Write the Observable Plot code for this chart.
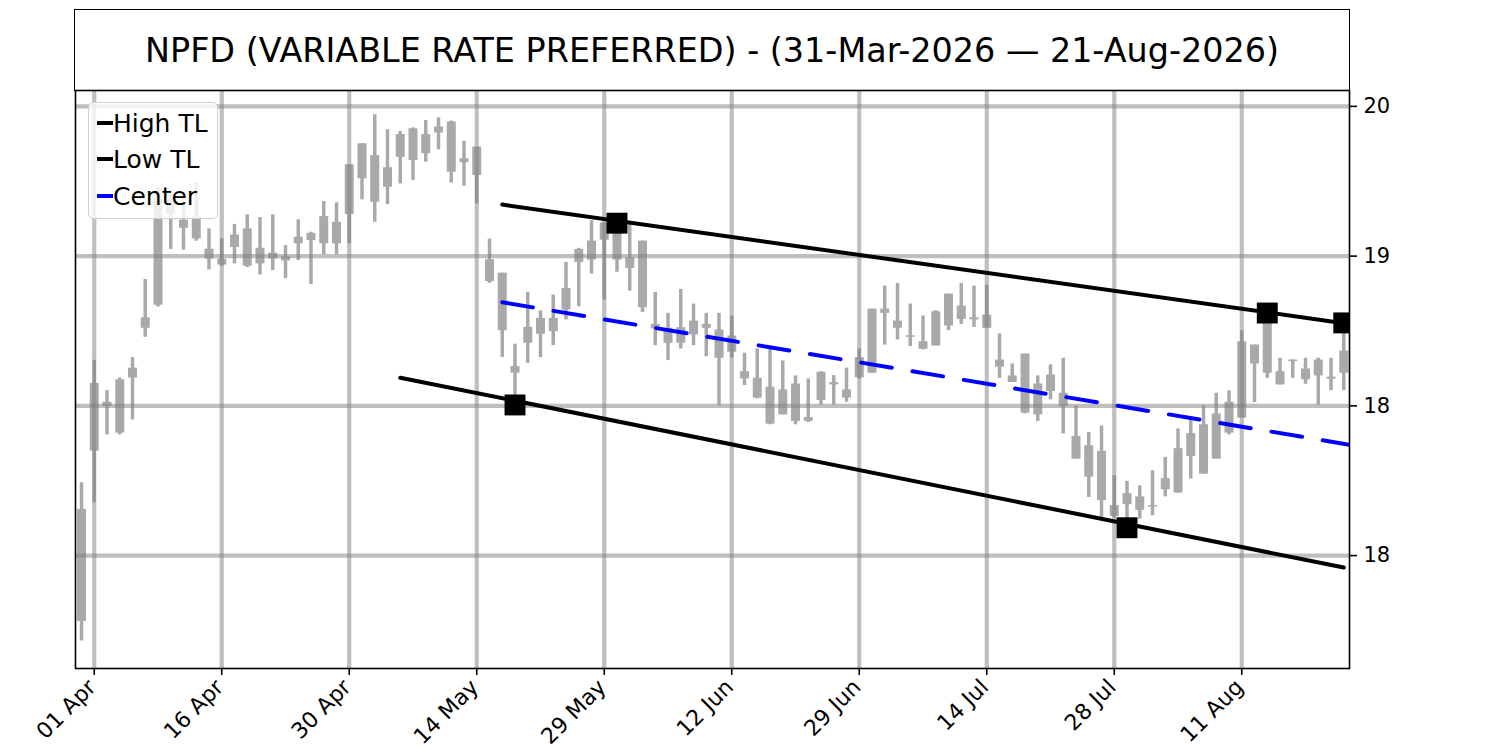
<!DOCTYPE html>
<html>
<head>
<meta charset="utf-8">
<script src="https://cdn.jsdelivr.net/npm/d3@7"></script>
<script src="https://cdn.jsdelivr.net/npm/@observablehq/plot@0.6"></script>
<style>
  body { margin: 0; background: #fff; font-family: "DejaVu Sans", sans-serif; }
  #wrap { position: relative; width: 1500px; height: 750px; overflow: hidden; }
  #title { position: absolute; left: 74px; top: 9px; width: 1276px; height: 82px; box-sizing: border-box;
           border: 1.6px solid #000; display: flex; align-items: center; justify-content: center;
           font-size: 33.4px; color: #000; }
  #chart { position: absolute; left: 0; top: 89px; }
  #legend { position: absolute; left: 88px; top: 102px; width: 130px; height: 117px; box-sizing: border-box;
            border: 1.3px solid #d0d0d0; border-radius: 5px; background: rgba(255,255,255,0.8); }
  .row { position: absolute; left: 0; height: 30px; display: flex; align-items: center; font-size: 25px; color: #000; }
  .sw { width: 16px; height: 0; border-top: 4px solid #000; margin-left: 8px; margin-right: 0px; }
</style>
</head>
<body>
<div id="wrap">
  <div id="title"></div>
  <div id="chart"></div>
  <div id="legend"></div>
</div>
<script>
const titleText = "NPFD (VARIABLE RATE PREFERRED) - (31-Mar-2026 \u2014 21-Aug-2026)";

// trading-day index 0..99 (31-Mar-2026 .. 21-Aug-2026)
const highs = [18.243,18.652,18.551,18.593,18.661,18.922,19.23,19.22,19.18,19.243,
  19.091,19.058,19.106,19.138,19.129,19.138,19.035,19.121,19.08,19.182,
  19.178,19.305,19.375,19.472,19.422,19.416,19.428,19.453,19.462,19.451,
  19.383,19.364,19.057,18.943,18.706,18.879,18.817,18.87,18.979,19.026,
  19.118,19.111,19.11,19.106,19.05,18.879,18.809,18.889,18.84,18.809,
  18.809,18.8,18.676,18.69,18.69,18.65,18.6,18.59,18.614,18.601,
  18.626,18.69,18.823,18.9,18.909,18.84,18.8,18.818,18.873,18.909,
  18.9,18.903,18.74,18.64,18.673,18.6,18.637,18.659,18.5,18.411,
  18.433,18.267,18.248,18.233,18.283,18.328,18.423,18.453,18.5,18.542,
  18.55,18.751,18.703,18.81,18.659,18.653,18.659,18.659,18.659,18.777];
const lows = [17.715,18.177,18.403,18.403,18.453,18.729,18.83,19.022,19.02,19.05,
  18.954,18.966,18.974,18.962,18.937,18.952,18.925,18.985,18.905,19.005,
  19.005,19.041,19.188,19.113,19.172,19.241,19.253,19.314,19.355,19.244,
  19.234,19.174,18.909,18.662,18.503,18.642,18.661,18.701,18.787,18.831,
  18.94,18.853,18.946,18.883,18.812,18.701,18.651,18.69,18.701,18.664,
  18.501,18.66,18.568,18.523,18.437,18.47,18.437,18.445,18.503,18.503,
  18.512,18.59,18.609,18.703,18.72,18.698,18.687,18.7,18.751,18.772,
  18.762,18.759,18.592,18.578,18.473,18.448,18.52,18.406,18.322,18.194,
  18.126,18.126,18.093,18.122,18.133,18.196,18.209,18.256,18.272,18.322,
  18.403,18.459,18.511,18.592,18.57,18.592,18.572,18.503,18.551,18.551];
// candle body ends (all candles share one colour, so only the span is shown)
const bodyHi = [18.154,18.575,18.512,18.587,18.626,18.794,19.19,19.186,19.12,19.13,
  19.023,18.99,19.07,19.091,19.026,19.01,18.998,19.063,19.076,19.132,
  19.113,19.305,19.375,19.336,19.295,19.406,19.425,19.406,19.431,19.448,
  19.325,19.364,18.988,18.943,18.631,18.762,18.792,18.792,18.892,19.022,
  19.05,19.111,19.081,18.994,19.05,18.772,18.759,18.761,18.783,18.772,
  18.753,18.733,18.614,18.592,18.562,18.553,18.573,18.461,18.612,18.578,
  18.553,18.661,18.823,18.823,18.783,18.734,18.714,18.814,18.873,18.833,
  18.794,18.803,18.653,18.6,18.673,18.573,18.603,18.542,18.398,18.367,
  18.348,18.167,18.207,18.196,18.167,18.257,18.357,18.407,18.437,18.473,
  18.512,18.714,18.703,18.776,18.614,18.653,18.623,18.653,18.596,18.683];
const bodyLo = [17.78,18.349,18.498,18.409,18.593,18.759,18.836,19.138,19.093,19.057,
  18.99,18.97,19.029,18.966,18.974,18.99,18.984,19.041,19.052,19.041,
  19.041,19.139,19.258,19.18,19.23,19.33,19.319,19.342,19.411,19.28,
  19.312,19.269,18.915,18.751,18.609,18.709,18.739,18.748,18.82,18.979,
  18.987,19.053,18.987,18.959,18.828,18.757,18.709,18.709,18.737,18.759,
  18.659,18.679,18.59,18.526,18.439,18.47,18.448,18.448,18.518,18.57,
  18.526,18.594,18.609,18.809,18.759,18.729,18.689,18.7,18.767,18.789,
  18.787,18.759,18.629,18.578,18.476,18.47,18.548,18.498,18.322,18.262,
  18.184,18.131,18.17,18.151,18.162,18.22,18.209,18.331,18.272,18.322,
  18.409,18.459,18.64,18.609,18.57,18.648,18.587,18.6,18.589,18.609];

const xTickIdx = [1, 11, 21, 31, 41, 51, 61, 71, 81, 91];
const xTickLabels = ["01 Apr","16 Apr","30 Apr","14 May","29 May","12 Jun","29 Jun","14 Jul","28 Jul","11 Aug"];
const yTickVals = [19.5, 19.0, 18.5, 18.0];
const yTickLabels = ["20", "19", "18", "18"];

const highTL = [{i: 33, v: 19.172}, {i: 99, v: 18.776}];
const lowTL = [{i: 25, v: 18.594}, {i: 99, v: 17.96}];
const centerTL = [{i: 33, v: 18.846}, {i: 99.45, v: 18.37}];
const pivotIdx = [34, 42, 82, 93, 99];
const pivotVal = [18.503, 19.11, 18.093, 18.81, 18.777];

const legendItems = [
  {label: "High TL", color: "#000000"},
  {label: "Low TL", color: "#000000"},
  {label: "Center", color: "#0000ff"}
];

const candles = highs.map((h, i) => ({i, high: h, low: lows[i], top: bodyHi[i], bottom: bodyLo[i]}));
const pivots = pivotIdx.map((i, k) => ({i, v: pivotVal[k]}));
const xLab = new Map(xTickIdx.map((d, k) => [d, xTickLabels[k]]));
const yLab = new Map(yTickVals.map((d, k) => [d, yTickLabels[k]]));

document.getElementById("title").textContent = titleText;

const grid = {stroke: "#808080", strokeOpacity: 0.5, strokeWidth: 4.2};
const candleColor = "#a9a9a9";

const chart = Plot.plot({
  width: 1500,
  height: 661,
  marginLeft: 75,
  marginRight: 151,
  marginTop: 1,
  marginBottom: 82,
  x: {type: "linear", domain: [-0.47, 99.45], label: null},
  y: {domain: [17.623, 19.553], label: null},
  style: {fontFamily: "DejaVu Sans", background: "transparent", color: "black", overflow: "visible"},
  marks: [
    Plot.ruleX(candles, {x: "i", y1: "low", y2: "high", stroke: candleColor, strokeWidth: 3.5}),
    Plot.ruleX(candles, {x: "i", y1: "bottom", y2: "top", stroke: candleColor, strokeWidth: 9}),
    Plot.gridX(xTickIdx, grid),
    Plot.gridY(yTickVals, grid),
    Plot.line(highTL, {x: "i", y: "v", stroke: "black", strokeWidth: 4}),
    Plot.line(lowTL, {x: "i", y: "v", stroke: "black", strokeWidth: 4}),
    Plot.line(centerTL, {x: "i", y: "v", stroke: "blue", strokeWidth: 4, strokeDasharray: "31,21", clip: true}),
    Plot.dot(pivots, {x: "i", y: "v", symbol: "square", r: 11.8, fill: "black", stroke: "none", clip: true}),
    Plot.frame({stroke: "black", strokeWidth: 1.6}),
    Plot.axisX(xTickIdx, {label: null, text: null, tickSize: 7, strokeWidth: 1.6}),
    Plot.axisX(xTickIdx, {label: null, tickFormat: d => xLab.get(d), tickRotate: -45, fontSize: 22, tickSize: 0, tickPadding: 15, dx: -2}),
    Plot.axisY(yTickVals, {anchor: "right", label: null, tickFormat: d => yLab.get(d), fontSize: 21, tickSize: 7, tickPadding: 7, strokeWidth: 1.6})
  ]
});
document.getElementById("chart").appendChild(chart);

const legend = document.getElementById("legend");
const rowTops = [5, 41, 78];
legendItems.forEach((item, k) => {
  const row = document.createElement("div");
  row.className = "row";
  row.style.top = rowTops[k] + "px";
  const sw = document.createElement("div");
  sw.className = "sw";
  sw.style.borderTopColor = item.color;
  const tx = document.createElement("span");
  tx.textContent = item.label;
  row.appendChild(sw);
  row.appendChild(tx);
  legend.appendChild(row);
});
</script>
</body>
</html>
